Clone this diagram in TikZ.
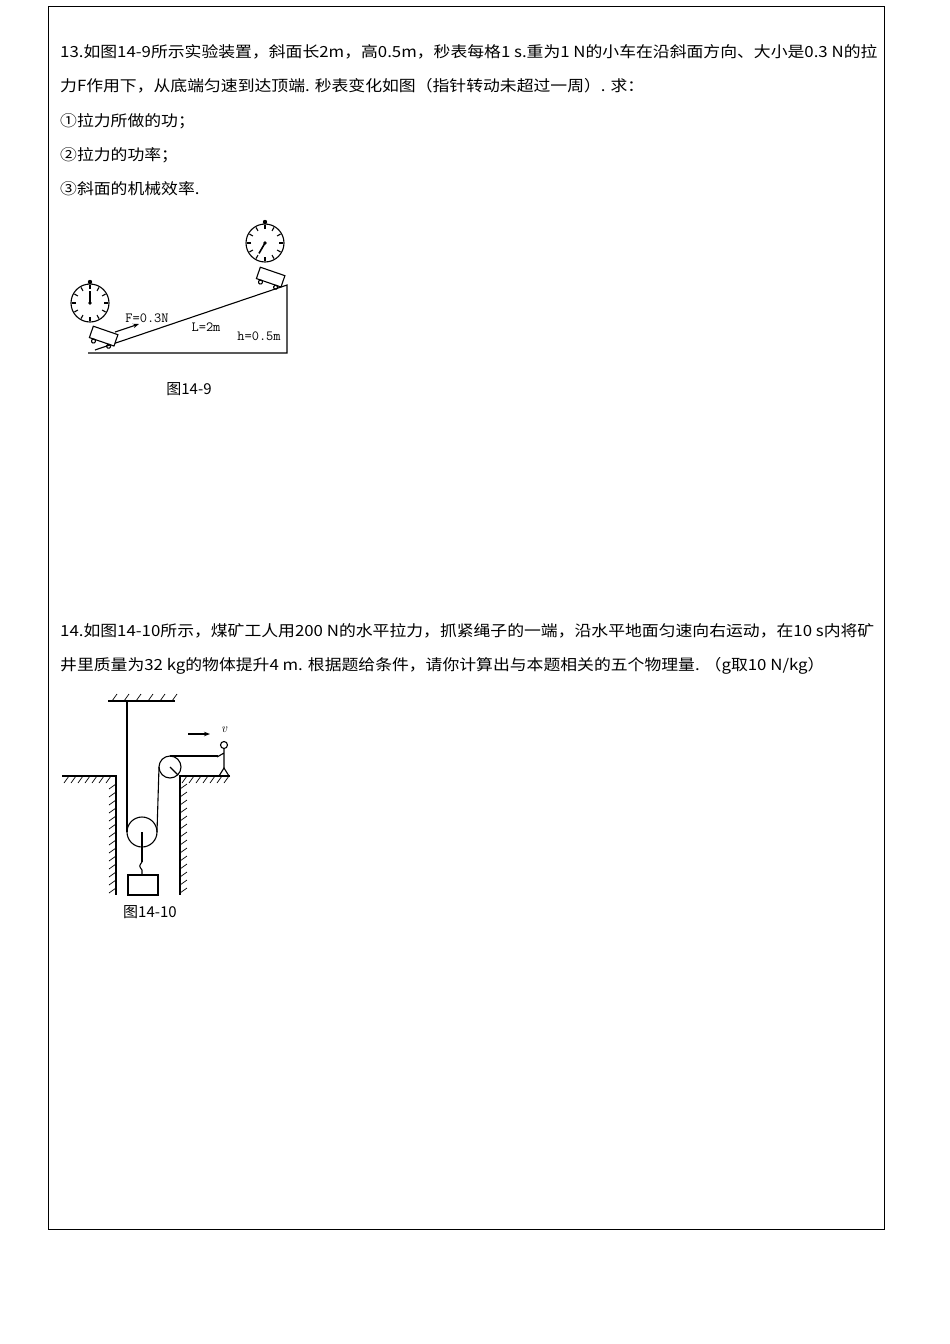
\documentclass[tikz,border=0pt]{standalone}
\usepackage{fontspec}
\newfontfamily\cjk{Noto Sans CJK SC}
\usetikzlibrary{arrows.meta}
\begin{document}
\begin{tikzpicture}[x=1pt,y=-1pt,
  txt/.style={anchor=west,inner sep=0,font=\cjk\fontsize{15.3}{17}\selectfont},
  lbl/.style={inner sep=0,font=\ttfamily\fontsize{14}{15}\selectfont},
  fig/.style={line width=1.1pt},
  hatch/.style={line width=0.7pt}]
\useasboundingbox (0,0) rectangle (950,1344);
\draw[line width=0.8pt] (48,6) rectangle (884,1229);
\newcommand\wline[1]{\scalebox{1.1}[1]{#1}}
\node[txt] (t1) at (60,52) {\wline{13.如图14-9所示实验装置，斜面长2m，高0.5m，秒表每格1 s.重为1 N的小车在沿斜面方向、大小是0.3 N的拉}};
\node[txt] (t2) at (60,86) {\wline{力F作用下，从底端匀速到达顶端. 秒表变化如图（指针转动未超过一周）. 求：}};
\node[txt] (t3) at (60,121) {\wline{①拉力所做的功；}};
\node[txt] (t4) at (60,155) {\wline{②拉力的功率；}};
\node[txt] (t5) at (60,189) {\wline{③斜面的机械效率.}};
\node[txt] (t6) at (60,631) {\wline{14.如图14-10所示，煤矿工人用200 N的水平拉力，抓紧绳子的一端，沿水平地面匀速向右运动，在10 s内将矿}};
\node[txt] (t7) at (60,666) {\wline{井里质量为32 kg的物体提升4 m. 根据题给条件，请你计算出与本题相关的五个物理量. （g取10 N/kg）}};
% figure 14-9
\coordinate (A) at (88,353); \coordinate (B) at (287,353); \coordinate (C) at (287,285);
\draw[fig] (95,350) -- (C) -- (B) -- (A);
\foreach \cx/\cy in {103/338, 270/279}{
  \begin{scope}[shift={(\cx,\cy)},rotate=-19]
   \draw[fig,fill=white] (-13,-8) rectangle (13,4);
   \draw[fig] (-8,6) circle (2); \draw[fig] (8,6) circle (2);
  \end{scope}}
\foreach \cx/\cy/\ang in {90/303/90, 265/243/-60}{
  \begin{scope}[shift={(\cx,\cy)}]
   \draw[fig] (0,0) circle (19);
   \foreach \a in {0,30,...,330} \draw[fig] (\a:14) -- (\a:18);
   \fill (0,-21) circle (2.2);
   \draw[line width=1.6pt] (0,0) -- (\ang:-12);
   \fill (0,0) circle (1.8);
  \end{scope}}
\coordinate (f1) at (115,332); \coordinate (f2) at (139,324);
\draw[fig,-{Stealth[length=6pt]}] (f1) -- (f2);
\node[lbl] (F) at (147,318) {F=0.3N};
\node[lbl] (L) at (206,327) {L=2m};
\node[lbl] (h) at (259,336) {h=0.5m};
\node[inner sep=0,font=\cjk\fontsize{15}{17}\selectfont] (c1) at (189,389) {图14-9};
% figure 14-10
\draw[fig] (108,701) -- (175,701);
\foreach \x in {112,124,...,172} \draw[hatch] (\x,701) -- (\x+5,694);
\draw[fig] (62,776) -- (116,776) -- (116,895);
\foreach \x in {64,71,...,112} \draw[hatch] (\x,783) -- (\x+5,776);
\foreach \y in {784,792,...,892} \draw[hatch] (109,\y+5) -- (116,\y);
\draw[fig] (230,776) -- (180,776) -- (180,895);
\foreach \x in {182,189,...,226} \draw[hatch] (\x,783) -- (\x+5,776);
\foreach \y in {784,792,...,892} \draw[hatch] (180,\y+5) -- (187,\y);
\draw[fig] (142,832) circle (15);
\draw[fig] (170,767) circle (11);
\draw[fig] (127,701) -- (127,832);
\draw[fig] (157,832) -- (159,767);
\draw[fig] (170,756) -- (218,756);
\draw[fig] (170,767) -- (178,775);
\draw[fig] (142,832) -- (142,862);
\draw[fig] (142,862) .. controls (139,866) .. (142,870) -- (142,875);
\draw[fig] (128,875) rectangle (158,895);
\draw[fig] (224,745) circle (3.5);
\draw[fig] (224,749) -- (224,768) (217,757) -- (224,753);
\draw[fig] (224,768) -- (219,776) -- (229,776) -- cycle;
\draw[fig,-{Stealth[length=6pt]}] (188,734) -- (210,734);
\node[inner sep=0,font=\itshape\fontsize{13}{14}\selectfont] (v) at (224,730) {v};
\node[inner sep=0,font=\cjk\fontsize{15}{17}\selectfont] (c2) at (150,912) {图14-10};
\end{tikzpicture}
\end{document}
